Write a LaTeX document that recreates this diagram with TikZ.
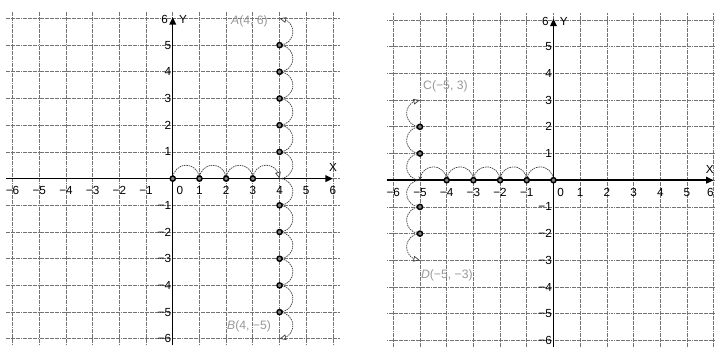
\documentclass[tikz,border=0pt]{standalone}
\usepackage{fontspec}
\setmainfont{Liberation Sans}
\usetikzlibrary{arrows.meta,bending}

\tikzset{
  gridline/.style={black!55,line width=0.75pt,dash pattern=on 2pt off 0.6pt},
  axisline/.style={line width=1.6pt,-{Triangle[length=8pt,width=7pt]}},
  hop/.style={black!75,line width=0.75pt,dash pattern=on 1.6pt off 0.9pt,
    -{Stealth[open,length=4pt,width=4pt]}},
  lasthop/.style={hop,-{Triangle[open,length=7pt,width=6pt]}},
  dot/.style={circle,draw,line width=1.5pt,fill=black!50,inner sep=0pt,minimum size=5.5pt},
  ticklab/.style={font=\fontsize{12.5}{13}\selectfont,inner sep=1pt},
  ptlab/.style={font=\fontsize{13}{14}\selectfont,text=black!40,inner sep=1pt},
  lastlab/.style={},
}

% grid, axes and numbers of one plane; #1 = prefix of node names
\newcommand{\plane}[1]{%
  \draw[gridline] (-6.25,-6.25) grid (6.25,6.25);
  \draw[axisline] (-6.25,0) -- (6,0);
  \draw[axisline] (0,-6.25) -- (0,6.05);
  \node[ticklab] (#1x0) at (0.27,-0.45) {0};
  \foreach \i in {1,...,5}
    \node[ticklab] (#1xp\i) at (\i,-0.45) {\i};
  \node[ticklab,lastlab] (#1xp6) at (6,-0.45) {6};
  \foreach \i in {1,...,6}{
    \node[ticklab] (#1xm\i) at (-\i,-0.45) {−\i};
    \node[ticklab,anchor=east] (#1ym\i) at (-0.02,-\i) {−\i};
  }
  \foreach \i in {1,...,5}
    \node[ticklab,anchor=east] (#1yp\i) at (-0.02,\i) {\i};
  \node[ticklab,anchor=east] (#1y6) at (-0.14,5.95) {6};
  \node[ticklab,anchor=west] (#1ylab) at (0.2,5.95) {Y};
  \node[ticklab,lastlab] (#1xlab) at (6,0.4) {X};
}

\begin{document}
\begin{tikzpicture}
\useasboundingbox (-6.47,-6.35) rectangle (20.31,6.69);

% left plane: A and B
\begin{scope}
  \plane{L}
  \foreach \i in {0,...,4}{
    \coordinate (L\i) at (\i,0);
  }
  \foreach \j in {1,...,6}{
    \coordinate (Lu\j) at (4,\j);
    \coordinate (Ld\j) at (4,-\j);
  }
  \coordinate (Lu0) at (4,0);
  \coordinate (Ld0) at (4,0);
  \foreach \i in {0,...,2}
    \draw[hop] (L\i) arc[start angle=180,end angle=0,radius=0.5];
  \draw[lasthop] (L3) arc[start angle=180,end angle=0,radius=0.5];
  \foreach \j in {0,...,4}{
    \draw[hop] (Lu\j) arc[start angle=-90,end angle=90,radius=0.5];
    \draw[hop] (Ld\j) arc[start angle=90,end angle=-90,radius=0.5];
  }
  \draw[lasthop] (Lu5) arc[start angle=-90,end angle=90,radius=0.5];
  \draw[lasthop] (Ld5) arc[start angle=90,end angle=-90,radius=0.5];
  \foreach \i in {0,...,3}
    \node[dot] (Lp\i) at (L\i) {};
  \foreach \j in {1,...,5}{
    \node[dot] (Lpu\j) at (Lu\j) {};
    \node[dot] (Lpd\j) at (Ld\j) {};
  }
  \node[ptlab,anchor=east] (A) at (3.6,5.9) {\textit{A}(4, 6)};
  \node[ptlab,anchor=east] (B) at (3.72,-5.52) {\textit{B}(4, −5)};
\end{scope}

% right plane: C and D
\begin{scope}[shift={(14.26,-0.06)},lastlab/.style={anchor=east,xshift=0.04cm}]
  \plane{R}
  \foreach \i in {0,...,5}{
    \coordinate (R\i) at (-\i,0);
  }
  \foreach \j in {0,...,3}{
    \coordinate (Ru\j) at (-5,\j);
    \coordinate (Rd\j) at (-5,-\j);
  }
  \foreach \i in {0,...,4}
    \draw[hop] (R\i) arc[start angle=0,end angle=180,radius=0.5];
  \foreach \j in {0,1}{
    \draw[hop] (Ru\j) arc[start angle=-90,end angle=-270,radius=0.5];
    \draw[hop] (Rd\j) arc[start angle=90,end angle=270,radius=0.5];
  }
  \draw[lasthop] (Ru2) arc[start angle=-90,end angle=-270,radius=0.5];
  \draw[lasthop] (Rd2) arc[start angle=90,end angle=270,radius=0.5];
  \foreach \i in {0,...,4}
    \node[dot] (Rp\i) at (R\i) {};
  \foreach \j in {1,2}{
    \node[dot] (Rpu\j) at (Ru\j) {};
    \node[dot] (Rpd\j) at (Rd\j) {};
  }
  \node[ptlab,anchor=west] (C) at (-4.92,3.5) {C(−5, 3)};
  \node[ptlab,anchor=west] (D) at (-5.0,-3.56) {\textit{D}(−5, −3)};
\end{scope}
\end{tikzpicture}
\end{document}
